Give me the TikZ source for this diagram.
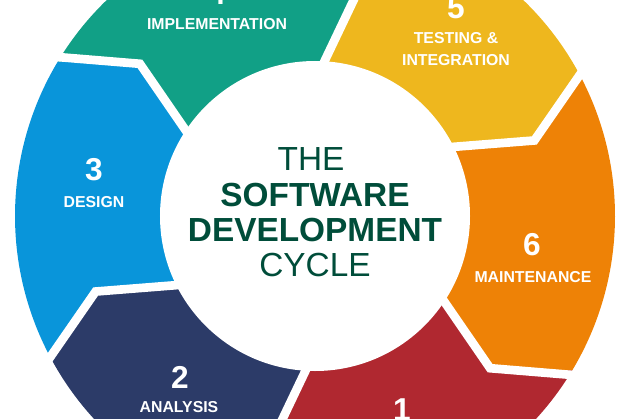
\documentclass[tikz,border=0pt]{standalone}
\usepackage{fontspec}
\setmainfont{Liberation Sans}
\usetikzlibrary{positioning}
\definecolor{phaseteal}{RGB}{17,160,134}
\definecolor{phaseyellow}{RGB}{238,183,30}
\definecolor{phaseorange}{RGB}{238,130,6}
\definecolor{phasered}{RGB}{176,40,48}
\definecolor{phasenavy}{RGB}{44,59,104}
\definecolor{phaseblue}{RGB}{9,149,218}
\definecolor{titlegreen}{RGB}{0,77,58}

\begin{document}
\begin{tikzpicture}[
        x=0.03cm, y=0.03cm,
        num/.style={text=white, font=\fontsize{27}{27}\selectfont\bfseries},
        lbl/.style={text=white, font=\fontsize{13.5}{16}\selectfont\bfseries, align=center},
        title/.style={text=titlegreen, font=\fontsize{28.5}{30}\selectfont}
    ]
        \useasboundingbox (-315,-202) rectangle (312,216);
        \clip (-315,-202) rectangle (312,216);

        % Ring segments
        \foreach \col/\t in {phaseblue/209, phaseteal/149, phaseyellow/89, phaseorange/29, phasered/-31, phasenavy/-91}{
            \fill[\col] (\t:300) arc[start angle=\t, end angle=\t-60, radius=300]
                -- (\t-70:232) -- (\t-60:140) -- (\t:140) -- (\t-10:232) -- cycle;
        }
        % White gaps
        \foreach \t in {209, 149, 89, 29, -31, -91}{
            \draw[white, line width=0.26cm, line join=miter] (\t:310) -- (\t-10:232) -- (\t:140);
        }
        \fill[white] (0,0) circle[radius=155];

        % Centre title
        \node[title] (the) at (-4,57) {THE};
        \node[title, font=\fontsize{28.5}{30}\selectfont\bfseries] (soft) at (0,21) {SOFTWARE};
        \node[title, font=\fontsize{28.5}{30}\selectfont\bfseries] (dev) at (0,-14) {DEVELOPMENT};
        \node[title] (cycle) at (0,-49) {CYCLE};

        % Phases
        \node[num] (n3) at (-221,46) {3};
        \node[lbl] (design) at (-221,14) {DESIGN};
        \node[num] (n4) at (-98,222) {4};
        \node[lbl] (impl) at (-98,192) {IMPLEMENTATION};
        \node[num] (n5) at (141,208) {5};
        \node[lbl] (test) at (141,167) {TESTING \&\\[3pt]INTEGRATION};
        \node[num] (n6) at (217,-29) {6};
        \node[lbl] (maint) at (218,-61) {MAINTENANCE};
        \node[num] (n1) at (87,-194) {1};
        \node[num] (n2) at (-135,-161) {2};
        \node[lbl] (analysis) at (-136,-191) {ANALYSIS};
    \end{tikzpicture}
\end{document}
